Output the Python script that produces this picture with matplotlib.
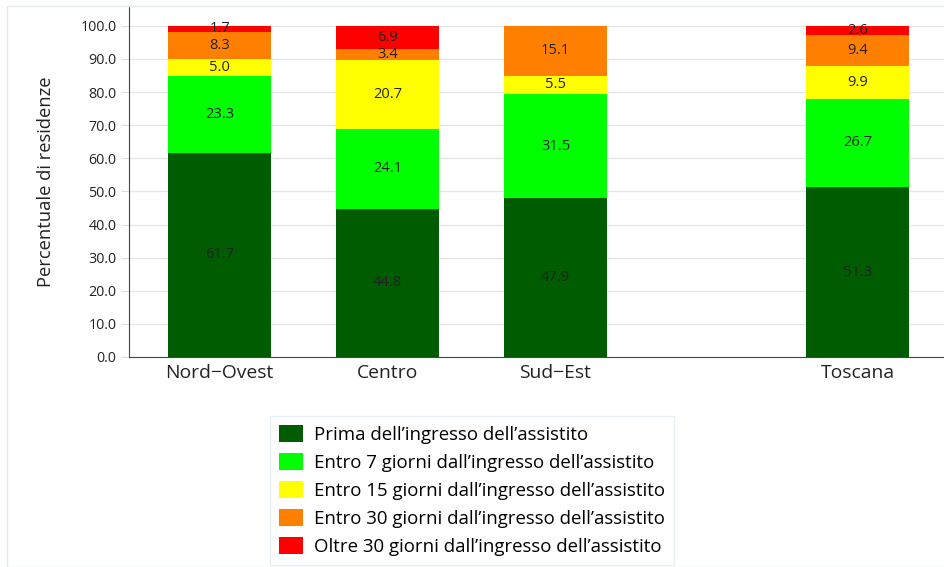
import numpy as np
import matplotlib.pyplot as plt
from matplotlib.patches import Rectangle

plt.rcParams['font.family'] = ['Open Sans', 'DejaVu Sans']

# dati
zone = ['Nord\u2212Ovest', 'Centro', 'Sud\u2212Est', 'Toscana']
posizioni = [0, 1, 2, 3.8]
serie = ["Prima dell\u2019ingresso dell\u2019assistito",
         "Entro 7 giorni dall\u2019ingresso dell\u2019assistito",
         "Entro 15 giorni dall\u2019ingresso dell\u2019assistito",
         "Entro 30 giorni dall\u2019ingresso dell\u2019assistito",
         "Oltre 30 giorni dall\u2019ingresso dell\u2019assistito"]
prima = [61.7, 44.8, 47.9, 51.3]
entro7 = [23.3, 24.1, 31.5, 26.7]
entro15 = [5.0, 20.7, 5.5, 9.9]
entro30 = [8.3, 3.4, 15.1, 9.4]
oltre30 = [1.7, 6.9, 0.0, 2.6]
colori = ['#005C00', '#00FF00', '#FFFF00', '#FF8000', '#FF0000']

fig = plt.figure(figsize=(9.45, 5.67), dpi=100)
fig.patches.append(Rectangle((7/945, 0), 1, 1 - 6/567, transform=fig.transFigure,
                             fill=False, edgecolor='#e3ebef', linewidth=1))
ax = fig.add_axes([129/945, 1 - 357/567, 1 - 129/945, (357 - 7)/567])

base = np.zeros(4)
for valori, nome, col in zip([prima, entro7, entro15, entro30, oltre30], serie, colori):
    valori = np.array(valori)
    ax.bar(posizioni, valori, width=0.61, bottom=base, color=col, label=nome, zorder=2)
    for x, b, v in zip(posizioni, base, valori):
        if v > 0:
            ax.text(x, b + v / 2, f'{v:.1f}', ha='center', va='center', fontsize=10.5, color='#222222', zorder=3)
    base += valori

ax.set_xlim(-0.54, 4.32)
ax.set_ylim(0, 105.7)
ax.set_yticks(np.arange(0, 101, 10))
ax.set_yticklabels([f'{t:.1f}' for t in np.arange(0, 101, 10)], fontsize=10.3)
ax.set_xticks(posizioni)
ax.set_xticklabels(zone, fontsize=13.9)
ax.tick_params(axis='x', length=0, pad=5, colors='#222222')
ax.tick_params(axis='y', length=6, color='#dddddd', labelcolor='#222222', pad=3)
ax.yaxis.grid(True, color='#e6e6e6', linewidth=1, zorder=0)
ax.set_axisbelow(True)
for s in ['top', 'right']:
    ax.spines[s].set_visible(False)
ax.spines['left'].set_color('#444444')
ax.spines['bottom'].set_color('#444444')
ax.set_ylabel('Percentuale di residenze', fontsize=13.2, color='#222222', labelpad=18)

fig.legend(loc='upper left', bbox_to_anchor=(270/945, 1 - 416/567), fontsize=13.4,
           frameon=True, fancybox=False, edgecolor='#e3ebef', handlelength=1.3,
           handleheight=1.0, handletextpad=0.55, labelspacing=0.5, borderpad=0.5,
           borderaxespad=0)

plt.savefig('out.png', dpi=100)
